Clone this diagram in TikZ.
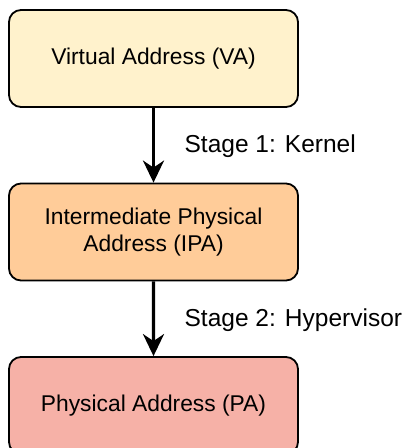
\documentclass[tikz,border=0pt]{standalone}
\usepackage{fontspec}
\setmainfont{Liberation Sans}
\usepackage{xcolor}
\usepackage{tikz}
\usetikzlibrary{arrows.meta}
\definecolor{vaFill}{HTML}{FFF2CC}
\definecolor{ipaFill}{HTML}{FFCC99}
\definecolor{paFill}{HTML}{F6B1A7}
\tikzset{
	addr node/.style={draw=black,line width=1.8pt,rounded corners=12pt,align=center,
		minimum width=289pt,minimum height=97pt,inner sep=0pt,
		font=\fontsize{22.8}{27.4}\selectfont},
	stage/.style={anchor=west,inner sep=0pt,xshift=29.5pt,yshift=-1pt,
		font=\fontsize{24.5}{29}\selectfont}
}

\begin{document}
\begin{tikzpicture}[x=1pt,y=1pt,
	    level 1/.style={level distance=173.5pt},
	    level 2/.style={level distance=173.5pt},
	    edge from parent/.style={draw,line width=3.3pt,-{Stealth[length=22pt,width=21pt,inset=7pt]}}]
	    \useasboundingbox (0,0) rectangle (405,-448);
	    \node [addr node,fill=vaFill] (va) at (153.5,-58.5) {Virtual Address (VA)}
	      child {node [addr node,fill=ipaFill] (ipa) {Intermediate Physical\\Address (IPA)}
	      	child {node [addr node,fill=paFill] (pa) {Physical Address (PA)}
	      		edge from parent node [stage] {Stage 2: Hypervisor}
					}
	      	edge from parent node [stage] {Stage 1: Kernel}
				};
	  \end{tikzpicture}
\end{document}
